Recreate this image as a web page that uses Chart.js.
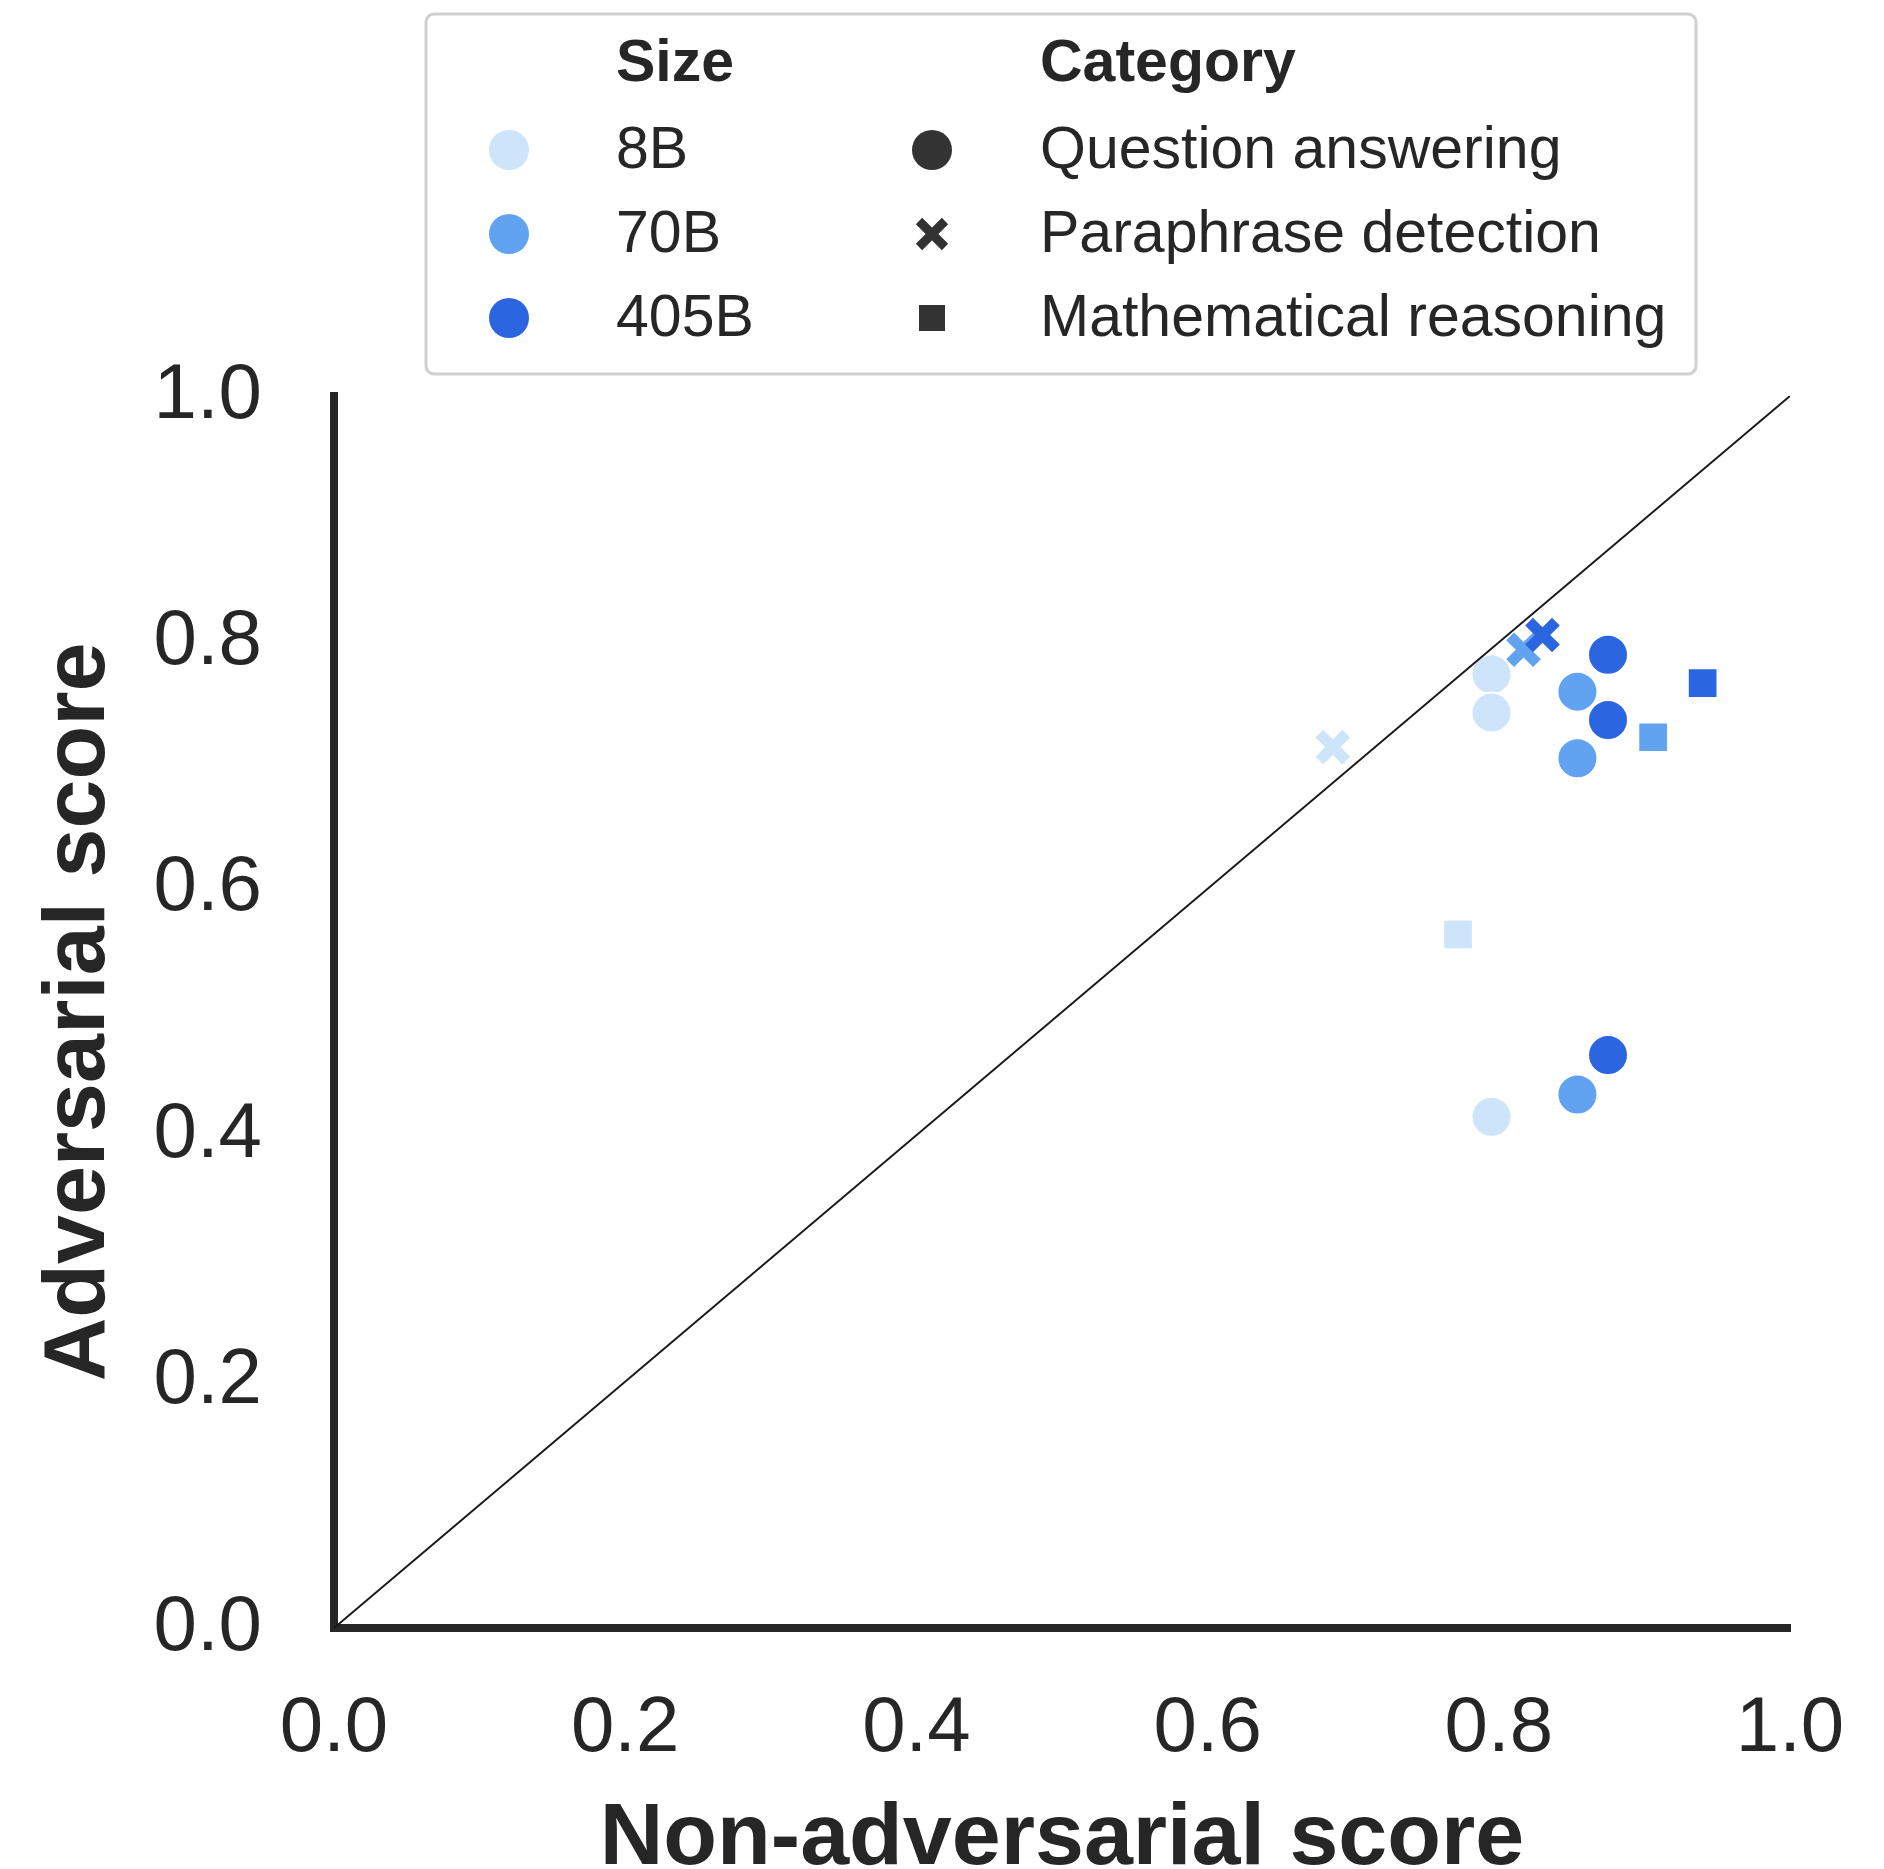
<!DOCTYPE html>
<html lang="en">
<head>
  <meta charset="utf-8">
  <script src="https://cdn.jsdelivr.net/npm/chart.js@4.4.0/dist/chart.umd.min.js"></script>
  <style>
    body {
      margin: 0;
      background: #ffffff;
    }
  </style>
</head>
<body>
  <canvas id="chart" width="1884" height="1869"></canvas>

  <script>
    // legend groups
    const sizes = ['8B', '70B', '405B'];
    const categories = ['Question answering', 'Paraphrase detection', 'Mathematical reasoning'];

    // x = non-adversarial score, y = adversarial score
    const qaX = [0.795, 0.795, 0.795, 0.854, 0.854, 0.854, 0.875, 0.875, 0.875];
    const qaY = [0.774, 0.743, 0.415, 0.760, 0.706, 0.433, 0.790, 0.737, 0.465];
    const qaSize = ['8B', '8B', '8B', '70B', '70B', '70B', '405B', '405B', '405B'];

    const ppX = [0.686, 0.817, 0.830];
    const ppY = [0.715, 0.794, 0.806];
    const ppSize = ['8B', '70B', '405B'];

    const mrX = [0.772, 0.906, 0.940];
    const mrY = [0.563, 0.723, 0.767];
    const mrSize = ['8B', '70B', '405B'];

    const axisTicks = [0, 0.2, 0.4, 0.6, 0.8, 1.0];

    const sizeColors = { '8B': '#cde4fb', '70B': '#62a3f1', '405B': '#2b66e0' };
    const ink = '#262626';
    const fontFamily = '"Liberation Sans", Arial, sans-serif';

    function points(xs, ys) {
      return xs.map((x, i) => ({ x: x, y: ys[i] }));
    }

    // hand-drawn two-column legend like seaborn's size / style legend
    const seabornLegend = {
      id: 'seabornLegend',
      afterDraw(chart) {
        const ctx = chart.ctx;
        ctx.save();
        ctx.beginPath();
        ctx.roundRect(426, 14, 1270, 360, 8);
        ctx.fillStyle = '#ffffff';
        ctx.fill();
        ctx.lineWidth = 3;
        ctx.strokeStyle = '#d0d0d0';
        ctx.stroke();

        ctx.fillStyle = ink;
        ctx.textBaseline = 'middle';
        ctx.textAlign = 'left';
        ctx.font = 'bold 59px ' + fontFamily;
        ctx.fillText('Size', 616, 65);
        ctx.fillText('Category', 1040, 65);

        ctx.font = '59px ' + fontFamily;
        const rows = [152, 236, 320];
        sizes.forEach((s, i) => {
          ctx.beginPath();
          ctx.arc(509, rows[i] - 2, 20, 0, Math.PI * 2);
          ctx.fillStyle = sizeColors[s];
          ctx.fill();
          ctx.fillStyle = ink;
          ctx.fillText(s, 616, rows[i]);
        });

        categories.forEach((c, i) => {
          const y = rows[i] - 2;
          ctx.fillStyle = '#333333';
          ctx.strokeStyle = '#333333';
          if (i === 0) {
            ctx.beginPath();
            ctx.arc(932, y, 20, 0, Math.PI * 2);
            ctx.fill();
          } else if (i === 1) {
            ctx.lineWidth = 9;
            ctx.beginPath();
            ctx.moveTo(932 - 13, y - 13);
            ctx.lineTo(932 + 13, y + 13);
            ctx.moveTo(932 + 13, y - 13);
            ctx.lineTo(932 - 13, y + 13);
            ctx.stroke();
          } else {
            ctx.fillRect(932 - 13, y - 13, 26, 26);
          }
          ctx.fillStyle = ink;
          ctx.fillText(c, 1040, rows[i]);
        });
        ctx.restore();
      }
    };

    const ctx = document.getElementById('chart').getContext('2d');
    const chart = new Chart(ctx, {
      type: 'scatter',
      data: {
        datasets: [
          {
            type: 'line',
            label: 'y = x',
            data: [{ x: 0, y: 0 }, { x: 1, y: 1 }],
            borderColor: '#1a1a1a',
            borderWidth: 2,
            pointRadius: 0,
            fill: false
          },
          {
            label: categories[0],
            data: points(qaX, qaY),
            pointStyle: 'circle',
            pointRadius: 20,
            backgroundColor: qaSize.map(s => sizeColors[s]),
            borderColor: '#ffffff',
            borderWidth: 2
          },
          {
            label: categories[1],
            data: points(ppX, ppY),
            pointStyle: 'crossRot',
            pointRadius: 19,
            borderColor: ppSize.map(s => sizeColors[s]),
            borderWidth: 11
          },
          {
            label: categories[2],
            data: points(mrX, mrY),
            pointStyle: 'rect',
            pointRadius: 21,
            backgroundColor: mrSize.map(s => sizeColors[s]),
            borderColor: '#ffffff',
            borderWidth: 2
          }
        ]
      },
      options: {
        responsive: false,
        animation: false,
        layout: {
          padding: { top: 396, right: 94, left: 0, bottom: 0 }
        },
        plugins: {
          legend: { display: false },
          tooltip: { enabled: false }
        },
        scales: {
          x: {
            type: 'linear',
            min: 0,
            max: 1,
            afterFit(scale) {
              scale.height = 241;
              scale.paddingLeft = 0;
              scale.paddingRight = 0;
            },
            afterBuildTicks(scale) { scale.ticks = axisTicks.map(v => ({ value: v })); },
            grid: { display: false, drawTicks: false },
            border: { display: true, width: 8, color: ink },
            ticks: {
              padding: 55,
              color: ink,
              font: { family: fontFamily, size: 78 },
              callback: v => v.toFixed(1)
            },
            title: {
              display: true,
              text: 'Non-adversarial score',
              color: ink,
              padding: { top: 0, bottom: 0 },
              font: { family: fontFamily, size: 88, weight: 'bold', lineHeight: 0.66 }
            }
          },
          y: {
            type: 'linear',
            min: 0,
            max: 1,
            afterFit(scale) { scale.width = 334; },
            afterBuildTicks(scale) { scale.ticks = axisTicks.map(v => ({ value: v })); },
            grid: { display: false, drawTicks: false },
            border: { display: true, width: 8, color: ink },
            ticks: {
              padding: 72,
              color: ink,
              font: { family: fontFamily, size: 78 },
              callback: v => v.toFixed(1)
            },
            title: {
              display: true,
              text: 'Adversarial score',
              color: ink,
              padding: { top: 36, bottom: 0 },
              font: { family: fontFamily, size: 88, weight: 'bold', lineHeight: 1 }
            }
          }
        }
      },
      plugins: [seabornLegend]
    });
  </script>
</body>
</html>
